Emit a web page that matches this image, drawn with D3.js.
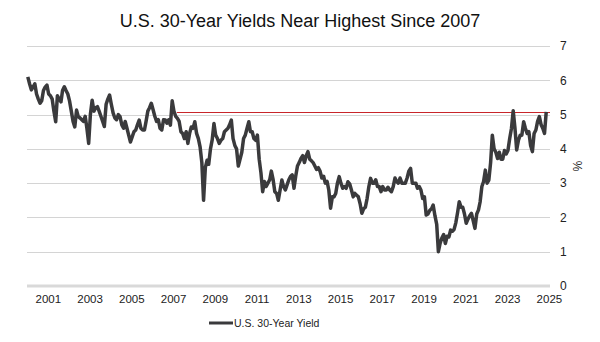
<!DOCTYPE html>
<html>
<head>
<meta charset="utf-8">
<script src="https://cdn.jsdelivr.net/npm/d3@7/dist/d3.min.js"></script>
<style>
  html, body { margin: 0; padding: 0; background: #fff; }
  svg { display: block; font-family: "Liberation Sans", Arial, sans-serif; }
</style>
</head>
<body>
<svg id="chart" width="600" height="342"></svg>
<script>
// ---- data ----
const title = "U.S. 30-Year Yields Near Highest Since 2007";
const seriesName = "U.S. 30-Year Yield";
const firstMonth = "2000-07"; // monthly observations start here
const yields = [
  // 2000 Jul-Dec
  6.10, 5.90, 5.72, 5.80, 5.90, 5.60,
  // 2001
  5.45, 5.33, 5.40, 5.70, 5.80, 5.86, 5.60, 5.55, 5.45, 5.10, 4.79, 5.55,
  // 2002
  5.45, 5.37, 5.70, 5.81, 5.70, 5.60, 5.40, 5.10, 4.80, 4.64, 5.13, 4.94,
  // 2003
  4.90, 4.85, 4.80, 4.95, 4.60, 4.16, 5.00, 5.42, 5.10, 5.20, 5.23, 5.10,
  // 2004
  4.95, 4.80, 4.65, 5.30, 5.45, 5.57, 5.30, 5.05, 4.90, 4.85, 5.00, 4.94,
  // 2005
  4.70, 4.60, 4.80, 4.60, 4.40, 4.20, 4.35, 4.50, 4.55, 4.70, 4.84, 4.60,
  // 2006
  4.55, 4.55, 4.80, 5.10, 5.20, 5.33, 5.15, 4.95, 4.80, 4.85, 4.60, 4.55,
  // 2007
  4.85, 4.84, 4.75, 4.85, 4.69, 5.40, 5.10, 4.95, 4.89, 4.80, 4.50, 4.45,
  // 2008
  4.30, 4.50, 4.16, 4.45, 4.64, 4.60, 4.79, 4.45, 4.30, 4.06, 3.60, 2.50,
  // 2009
  3.45, 3.67, 3.55, 4.00, 4.26, 4.74, 4.40, 4.30, 4.16, 4.25, 4.30, 4.50,
  // 2010
  4.55, 4.60, 4.70, 4.84, 4.30, 4.10, 4.00, 3.50, 3.70, 3.90, 4.30, 4.40,
  // 2011
  4.60, 4.79, 4.50, 4.50, 4.30, 4.25, 4.40, 3.70, 3.30, 2.75, 3.05, 2.90,
  // 2012
  3.00, 3.10, 3.35, 3.10, 2.75, 2.70, 2.50, 2.80, 3.09, 2.90, 2.80, 2.95,
  // 2013
  3.10, 3.20, 3.24, 2.85, 3.20, 3.50, 3.60, 3.72, 3.80, 3.60, 3.80, 3.92,
  // 2014
  3.70, 3.65, 3.60, 3.50, 3.40, 3.45, 3.35, 3.15, 3.20, 3.00, 3.05, 2.80,
  // 2015
  2.27, 2.60, 2.60, 2.70, 3.00, 3.19, 3.00, 2.85, 2.90, 2.85, 3.04, 2.98,
  // 2016
  2.80, 2.60, 2.70, 2.65, 2.60, 2.40, 2.12, 2.25, 2.30, 2.55, 2.90, 3.14,
  // 2017
  3.00, 3.00, 3.10, 2.90, 2.90, 2.75, 2.90, 2.80, 2.80, 2.88, 2.80, 2.75,
  // 2018
  2.90, 3.15, 3.05, 3.00, 3.15, 3.00, 3.00, 3.00, 3.15, 3.35, 3.43, 3.00,
  // 2019
  3.00, 3.00, 2.85, 2.90, 2.80, 2.55, 2.60, 2.07, 2.10, 2.20, 2.25, 2.36,
  // 2020
  2.05, 1.80, 1.00, 1.25, 1.40, 1.50, 1.24, 1.45, 1.43, 1.63, 1.60, 1.65,
  // 2021
  1.85, 2.15, 2.46, 2.30, 2.30, 2.10, 1.83, 1.95, 2.05, 2.12, 1.90, 1.68,
  // 2022
  2.10, 2.22, 2.45, 2.90, 3.05, 3.38, 3.00, 3.09, 3.60, 4.40, 4.00, 3.90,
  // 2023
  3.72, 3.90, 3.70, 3.70, 3.95, 3.85, 3.95, 4.30, 4.60, 5.11, 4.60, 3.97,
  // 2024
  4.25, 4.40, 4.40, 4.79, 4.60, 4.45, 4.50, 4.10, 3.92, 4.45, 4.55, 4.80,
  // 2025 Jan-May
  4.94, 4.70, 4.60, 4.45, 5.08
];
const yTicks = [0, 1, 2, 3, 4, 5, 6, 7];
const xTickYears = [2001, 2003, 2005, 2007, 2009, 2011, 2013, 2015, 2017, 2019, 2021, 2023, 2025];
const refLevel = 5.08;          // highest-since-2007 reference level
const refStart = "2007-09-05";  // reference line starts here

// ---- build ----
const parseMonth = d3.timeParse("%Y-%m");
const start = parseMonth(firstMonth);
const data = yields.map((v, i) => ({ date: d3.timeDay.offset(d3.timeMonth.offset(start, i), 14), value: v }));

const svg = d3.select("#chart");
const plotL = 27, plotR = 550, plotT = 46, plotB = 286;
const crisp = v => Math.round(v) + 0.5;

const x = d3.scaleTime()
  .domain([new Date(2000, 6, 1), new Date(2025, 6, 20)])
  .range([plotL, plotR]);
const y = d3.scaleLinear().domain([0, 7]).range([plotB, plotT]);

// title
svg.append("text")
  .attr("x", 300).attr("y", 27)
  .attr("text-anchor", "middle")
  .attr("font-size", 18)
  .attr("fill", "#111")
  .text(title);

// gridlines
svg.append("g").selectAll("line")
  .data(yTicks.filter(d => d > 0))
  .join("line")
  .attr("x1", plotL).attr("x2", plotR)
  .attr("y1", d => crisp(y(d))).attr("y2", d => crisp(y(d)))
  .attr("stroke", "#d4d4d4").attr("stroke-width", 1);

// zero baseline
svg.append("line")
  .attr("x1", plotL).attr("x2", plotR)
  .attr("y1", y(0)).attr("y2", y(0))
  .attr("stroke", "#d9d9d9").attr("stroke-width", 3);

// right y axis
const yAxis = d3.axisRight(y).tickValues(yTicks).tickFormat(d3.format("d")).tickSize(0).tickPadding(10);
const gy = svg.append("g").attr("transform", `translate(${plotR},0)`).call(yAxis);
gy.select(".domain").remove();
gy.selectAll("text").attr("font-size", 12).attr("fill", "#222").attr("font-family", "Liberation Sans, Arial, sans-serif");

// % label
svg.append("text")
  .attr("transform", `translate(573,166) rotate(90)`)
  .attr("text-anchor", "middle")
  .attr("font-size", 12)
  .attr("fill", "#222")
  .text("%");

// bottom x axis
const xAxis = d3.axisBottom(x)
  .tickValues(xTickYears.map(yr => new Date(yr, 6, 1)))
  .tickFormat(d3.timeFormat("%Y"))
  .tickSize(0).tickPadding(9);
const gx = svg.append("g").attr("transform", `translate(0,${plotB})`).call(xAxis);
gx.select(".domain").remove();
gx.selectAll("text").attr("font-size", 11.5).attr("fill", "#222").attr("font-family", "Liberation Sans, Arial, sans-serif");

// reference line
svg.append("line")
  .attr("x1", x(new Date(refStart))).attr("x2", plotR)
  .attr("y1", crisp(y(refLevel))).attr("y2", crisp(y(refLevel)))
  .attr("stroke", "#c8262b").attr("stroke-width", 1);

// series line
const line = d3.line().x(d => x(d.date)).y(d => y(d.value)).curve(d3.curveLinear);
svg.append("path")
  .datum(data)
  .attr("d", line)
  .attr("fill", "none")
  .attr("stroke", "#3a3a3c")
  .attr("stroke-width", 3.5)
  .attr("stroke-linejoin", "round");

// legend
const lg = svg.append("g");
lg.append("line")
  .attr("x1", 209).attr("x2", 233)
  .attr("y1", 323).attr("y2", 323)
  .attr("stroke", "#3a3a3c").attr("stroke-width", 3);
lg.append("text")
  .attr("x", 234).attr("y", 327)
  .attr("font-size", 10.5).attr("fill", "#222")
  .text(seriesName);
</script>
</body>
</html>
